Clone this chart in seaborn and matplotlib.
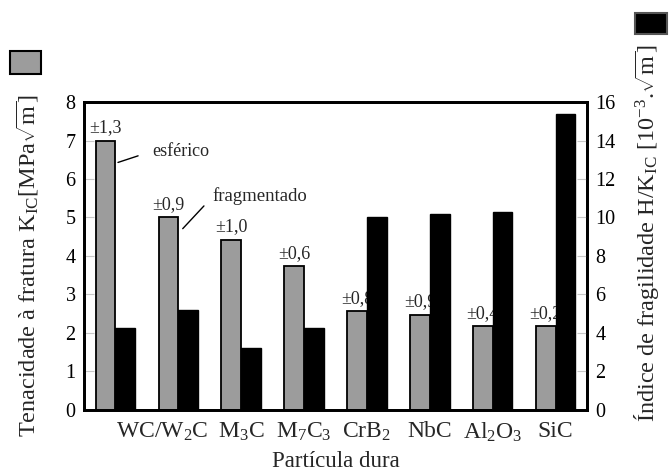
import matplotlib
matplotlib.use("Agg")
import matplotlib.pyplot as plt
import seaborn as sns
import pandas as pd
from matplotlib.patches import Rectangle

# ---- data ----
categories = ["WC esf", "WC frag", "M3C", "M7C3", "CrB2", "NbC", "Al2O3", "SiC"]
tenacidade = [7.0, 5.0, 4.42, 3.73, 2.56, 2.47, 2.17, 2.17]          # K_IC [MPa sqrt(m)]
fragilidade = [4.28, 5.17, 3.24, 4.25, 10.0, 10.2, 10.3, 15.4]      # H/K_IC [10^-3 sqrt(m)]
desvios = ["±1,3", "±0,9", "±1,0", "±0,6", "±0,8", "±0,9", "±0,4", "±0,2"]
tick_labels = ["WC/W$_2$C", "M$_3$C", "M$_7$C$_3$", "CrB$_2$", "NbC", "Al$_2$O$_3$", "SiC"]
left_ticks = [0, 1, 2, 3, 4, 5, 6, 7, 8]
right_ticks = [0, 2, 4, 6, 8, 10, 12, 14, 16]

# ---- layout constants ----
label_pos = [0.75, 2, 3, 4, 5, 6, 7]

sns.set_theme(style="white")
plt.rcParams["font.family"] = ["Liberation Serif", "DejaVu Serif"]
plt.rcParams["mathtext.fontset"] = "custom"
plt.rcParams["mathtext.rm"] = "Liberation Serif"
plt.rcParams["mathtext.it"] = "Liberation Serif:italic"
plt.rcParams["mathtext.bf"] = "Liberation Serif:bold"

df = pd.DataFrame({
    "cat": categories * 2,
    "serie": ["K"] * len(categories) + ["H"] * len(categories),
    "valor": tenacidade + fragilidade,
})
palette = {"K": "#9c9c9c", "H": "#000000"}

fig = plt.figure(figsize=(6.69, 4.76), dpi=100)
ax = fig.add_axes([0.1256, 0.1387, 0.7518, 0.647])

sns.barplot(data=df[df.serie == "K"], x="cat", y="valor", hue="serie",
            hue_order=["K", "H"], order=categories, palette=palette,
            width=0.63, dodge=True, legend=False, edgecolor="black",
            linewidth=1.3, ax=ax, errorbar=None, zorder=2)
ax2 = ax.twinx()
sns.barplot(data=df[df.serie == "H"], x="cat", y="valor", hue="serie",
            hue_order=["K", "H"], order=categories, palette=palette,
            width=0.63, dodge=True, legend=False, edgecolor="black",
            linewidth=1.0, ax=ax2, errorbar=None, zorder=2)

ax.set_ylim(0, 8)
ax2.set_ylim(0, 16)
ax.set_xlim(-0.5, len(categories) - 0.5)
ax.set_yticks(left_ticks)
ax2.set_yticks(right_ticks)
ax.tick_params(axis="y", direction="in", length=7, width=0.8, color="#c8c8c8",
               labelsize=14.5, labelcolor="black", pad=6)
ax2.tick_params(axis="y", direction="in", length=7, width=0.8, color="#c8c8c8",
                labelsize=14.5, labelcolor="black", pad=6)
ax.set_xticks(label_pos)
ax.set_xticklabels(tick_labels, fontsize=17)
ax.tick_params(axis="x", length=0, pad=8)
ax2.tick_params(axis="x", length=0)

for a in (ax, ax2):
    for s in a.spines.values():
        s.set_linewidth(2.0)
        s.set_color("black")

ax.set_xlabel("Partícula dura", fontsize=16.5, labelpad=5)
ax.set_ylabel("Tenacidade à fratura K$_{\\rm IC}$[MPa$\\sqrt{\\rm m}$]", fontsize=17.5)
ax.yaxis.set_label_coords(-0.085, 0.47)
ax2.set_ylabel("Índice de fragilidade H/K$_{\\rm IC}$ [10$^{-3}$.$\\sqrt{\\rm m}$]",
               fontsize=17.5)
ax2.yaxis.set_label_coords(1.09, 0.575)

# deviation labels above gray bars (drawn behind black bars)
ax.set_zorder(1)
ax2.set_zorder(2)
ax2.patch.set_visible(False)
gray_bars = [p for p in ax.patches if p.get_height() > 0]
for p, txt in zip(gray_bars, desvios):
    ax.text(p.get_x() + p.get_width() / 2, p.get_height() + 0.12, txt,
            ha="center", va="bottom", fontsize=13, zorder=1)

ax.annotate("esférico", xy=(0.04, 6.43), xytext=(0.58, 6.72),
            ha="left", va="center", fontsize=13,
            arrowprops=dict(arrowstyle="-", color="black", lw=1.0,
                            shrinkA=8, shrinkB=0, relpos=(0, 0.5)))
ax.annotate("fragmentado", xy=(1.07, 4.71), xytext=(1.55, 5.55),
            ha="left", va="center", fontsize=13.5,
            arrowprops=dict(arrowstyle="-", color="black", lw=1.0,
                            shrinkA=6, shrinkB=0, relpos=(0, 0.5)))

# legend swatches
fig.patches.append(Rectangle((10 / 669, 1 - 74 / 476), 31 / 669, 23 / 476,
                             transform=fig.transFigure, facecolor="#9c9c9c",
                             edgecolor="black", linewidth=1.5))
fig.patches.append(Rectangle((635 / 669, 1 - 34 / 476), 32 / 669, 21 / 476,
                             transform=fig.transFigure, facecolor="black",
                             edgecolor="#555555", linewidth=1.5))

fig.savefig("out.png", dpi=100)
